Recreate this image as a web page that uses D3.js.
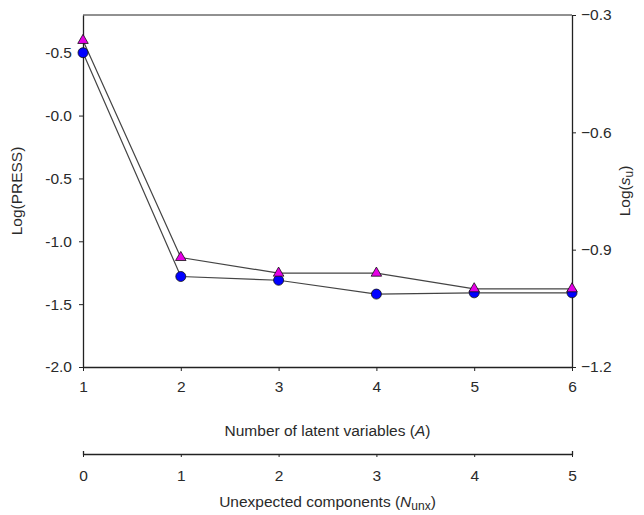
<!DOCTYPE html>
<html lang="en">
<head>
    <meta charset="UTF-8">
    <title>PRESS and s_u vs latent variables</title>
    <script src="https://d3js.org/d3.v7.min.js"></script>
    <style>
        body {
            margin: 0;
            background-color: white;
            font-family: "Liberation Sans", Arial, sans-serif;
        }
        .tick text {
            font-size: 15.5px;
            fill: #2a2a2a;
        }
        .axis-title {
            font-size: 15.5px;
            fill: #2a2a2a;
        }
        .domain, .tick line {
            stroke: #222;
        }
    </style>
</head>
<body>
    <div id="chart"></div>

    <script>
        // Number of latent variables (A)
        const latentVars = [1, 2, 3, 4, 5, 6];
        // Unexpected components (N_unx)
        const unexpected = [0, 1, 2, 3, 4, 5];

        // Log(PRESS), left axis - blue circles
        const logPress = [0.5, -1.28, -1.31, -1.42, -1.41, -1.41];
        // Log(s_u), right axis - magenta triangles
        const logSu = [-0.365, -0.92, -0.96, -0.96, -1.0, -1.0];

        const leftTicks = [0.5, 0.0, -0.5, -1.0, -1.5, -2.0];
        const leftTickLabels = ["-0.5", "-0.0", "-0.5", "-1.0", "-1.5", "-2.0"];
        const rightTicks = [-0.3, -0.6, -0.9, -1.2];

        const width = 644, height = 515;
        const margin = { top: 15, right: 72, bottom: 148, left: 83 };
        const innerW = width - margin.left - margin.right;
        const innerH = height - margin.top - margin.bottom;

        const svg = d3.select("#chart")
            .append("svg")
            .attr("width", width)
            .attr("height", height);

        const g = svg.append("g")
            .attr("transform", `translate(${margin.left},${margin.top})`);

        const x = d3.scaleLinear().domain([1, 6]).range([0, innerW]);
        const x2 = d3.scaleLinear().domain([0, 5]).range([0, innerW]);
        const yL = d3.scaleLinear().domain([-2, 0.8]).range([innerH, 0]);
        const yR = d3.scaleLinear().domain([-1.2, -0.3]).range([innerH, 0]);

        // frame top line
        g.append("line")
            .attr("x1", 0).attr("x2", innerW)
            .attr("y1", 0).attr("y2", 0)
            .attr("stroke", "#222");

        // bottom axis
        g.append("g")
            .attr("transform", `translate(0,${innerH})`)
            .call(d3.axisBottom(x).tickValues(latentVars).tickSize(4).tickSizeOuter(0).tickPadding(10)
                .tickFormat(d3.format("d")));

        // left axis
        g.append("g")
            .call(d3.axisLeft(yL).tickValues(leftTicks).tickSize(4).tickSizeOuter(0).tickPadding(7)
                .tickFormat((d, i) => leftTickLabels[i]));

        // right axis
        g.append("g")
            .attr("transform", `translate(${innerW},0)`)
            .call(d3.axisRight(yR).tickValues(rightTicks).tickSize(4).tickSizeOuter(0).tickPadding(5)
                .tickFormat(d3.format(".1f")));

        g.selectAll(".domain").attr("stroke-width", 1.3);

        // second x axis
        g.append("g")
            .attr("transform", `translate(0,${innerH + 87})`)
            .call(d3.axisBottom(x2).tickValues(unexpected).tickSize(3).tickSizeOuter(0).tickPadding(13)
                .tickFormat(d3.format("d")))
            .select(".domain")
            .attr("d", `M0.5,-3V0.5H${innerW + 0.5}V-3`)
            .attr("stroke-width", 1.3);

        // lines
        const lineL = d3.line().x((d, i) => x(latentVars[i])).y(d => yL(d));
        const lineR = d3.line().x((d, i) => x(latentVars[i])).y(d => yR(d));

        g.append("path")
            .datum(logSu)
            .attr("d", lineR)
            .attr("fill", "none")
            .attr("stroke", "#444")
            .attr("stroke-width", 1.2);

        g.append("path")
            .datum(logPress)
            .attr("d", lineL)
            .attr("fill", "none")
            .attr("stroke", "#444")
            .attr("stroke-width", 1.2);

        // markers
        g.selectAll(".circ")
            .data(logPress)
            .enter()
            .append("circle")
            .attr("class", "circ")
            .attr("cx", (d, i) => x(latentVars[i]))
            .attr("cy", d => yL(d))
            .attr("r", 5)
            .attr("fill", "#0000ff")
            .attr("stroke", "#111")
            .attr("stroke-width", 0.8);

        const tri = d3.symbol().type(d3.symbolTriangle).size(48);
        g.selectAll(".tri")
            .data(logSu)
            .enter()
            .append("path")
            .attr("class", "tri")
            .attr("d", tri)
            .attr("transform", (d, i) => `translate(${x(latentVars[i])},${yR(d)})`)
            .attr("fill", "#e600e6")
            .attr("stroke", "#111")
            .attr("stroke-width", 0.8);

        // axis titles
        const t1 = svg.append("text")
            .attr("class", "axis-title")
            .attr("x", margin.left + innerW / 2)
            .attr("y", 436)
            .attr("text-anchor", "middle");
        t1.append("tspan").text("Number of latent variables (");
        t1.append("tspan").attr("font-style", "italic").text("A");
        t1.append("tspan").text(")");

        const t2 = svg.append("text")
            .attr("class", "axis-title")
            .attr("x", margin.left + innerW / 2)
            .attr("y", 507)
            .attr("text-anchor", "middle");
        t2.append("tspan").text("Unexpected components (");
        t2.append("tspan").attr("font-style", "italic").text("N");
        t2.append("tspan").attr("font-size", "12px").attr("dy", 3).text("unx");
        t2.append("tspan").attr("dy", -3).text(")");

        svg.append("text")
            .attr("class", "axis-title")
            .attr("transform", `translate(22,${margin.top + innerH / 2}) rotate(-90)`)
            .attr("text-anchor", "middle")
            .text("Log(PRESS)");

        const t3 = svg.append("text")
            .attr("class", "axis-title")
            .attr("transform", `translate(630,${margin.top + innerH / 2}) rotate(-90)`)
            .attr("text-anchor", "middle");
        t3.append("tspan").text("Log(");
        t3.append("tspan").attr("font-style", "italic").text("s");
        t3.append("tspan").attr("font-size", "12px").attr("dy", 3).text("u");
        t3.append("tspan").attr("dy", -3).text(")");
    </script>
</body>
</html>
